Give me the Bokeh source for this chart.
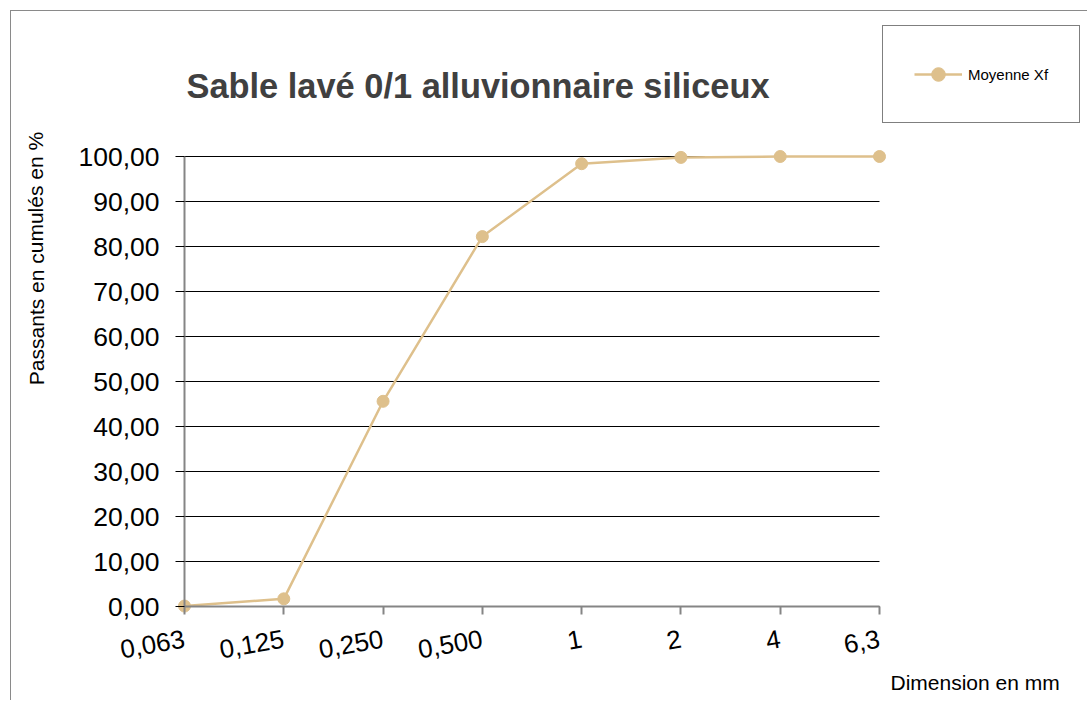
from bokeh.plotting import figure
from bokeh.models import (Range1d, FixedTicker, Label, Legend, LegendItem, Grid)
from bokeh.embed import file_html
from bokeh.resources import INLINE

# ---- data ----
sizes = ["0,063", "0,125", "0,250", "0,500", "1", "2", "4", "6,3"]
passing = [0.1, 1.7, 45.6, 82.2, 98.4, 99.8, 100.0, 100.0]
y_ticks = [0, 10, 20, 30, 40, 50, 60, 70, 80, 90, 100]
y_tick_labels = ["0,00", "10,00", "20,00", "30,00", "40,00", "50,00",
                 "60,00", "70,00", "80,00", "90,00", "100,00"]
title_text = "Sable lavé 0/1 alluvionnaire siliceux"
y_label = "Passants en cumulés en %"
x_label = "Dimension en mm"
series_name = "Moyenne Xf"

FONT = "Liberation Sans"
LINE_COLOR = "#DEC08C"

xs = list(range(len(sizes)))
n_steps = len(sizes) - 1

# ---- layout geometry (page pixels) ----
W, H = 1077, 690          # canvas size
OX, OY = 11, 11           # canvas origin on the page (margin + border)
PL, PR = 184, 879         # plot area left / right on page
PT, PB = 156, 606         # plot area top / bottom on page
sx_unit = (PR - PL) / n_steps
sy_unit = (PB - PT) / 100.0

def dx(px):
    return (px - PL) / sx_unit

def dy(py):
    return (PB - py) / sy_unit

x_start, x_end = dx(OX), dx(OX + W)
y_start, y_end = dy(OY + H), dy(OY)

p = figure(width=W, height=H, output_backend="svg", toolbar_location=None,
           title_location=None,
           x_range=Range1d(x_start, x_end), y_range=Range1d(y_start, y_end),
           min_border=0, min_border_left=0, min_border_right=0,
           min_border_top=0, min_border_bottom=0)
p.outline_line_color = None
p.background_fill_color = "white"
p.border_fill_color = "white"
p.styles = {"border-left": "1px solid #8a8a8a", "border-top": "1px solid #8a8a8a",
            "margin-left": "10px", "margin-top": "10px"}

# line + markers
r_line = p.line(xs, passing, line_color=LINE_COLOR, line_width=2.5)
r_pts = p.scatter(xs, passing, size=12, fill_color=LINE_COLOR, line_color=LINE_COLOR)

# axes placed at the data origin
xa = p.xaxis[0]
xa.fixed_location = 0
xa.bounds = (0, n_steps)
xa.ticker = FixedTicker(ticks=xs)
xa.major_label_overrides = {i: s for i, s in enumerate(sizes)}
xa.major_label_orientation = 0.17
xa.major_label_text_font = FONT
xa.major_label_text_font_size = "26px"
xa.major_label_text_color = "black"
xa.major_label_standoff = 24
xa.axis_line_color = "#858585"
xa.axis_line_width = 2
xa.major_tick_line_color = "#858585"
xa.major_tick_line_width = 2
xa.major_tick_out = 8
xa.major_tick_in = 0
xa.minor_tick_line_color = None

ya = p.yaxis[0]
ya.fixed_location = 0
ya.bounds = (0, 100)
ya.ticker = FixedTicker(ticks=y_ticks)
ya.major_label_overrides = {v: s for v, s in zip(y_ticks, y_tick_labels)}
ya.major_label_text_font = FONT
ya.major_label_text_font_size = "26.5px"
ya.major_label_text_color = "black"
ya.major_label_standoff = 16
ya.axis_line_color = "#858585"
ya.axis_line_width = 2
ya.major_tick_line_color = "black"
ya.major_tick_out = 9
ya.major_tick_in = 0
ya.minor_tick_line_color = None

p.xgrid.grid_line_color = None
yg = p.ygrid[0]
yg.ticker = FixedTicker(ticks=y_ticks)
yg.grid_line_color = "black"
yg.grid_line_width = 1
if "cross_bounds" in Grid.properties():
    yg.cross_bounds = (0, n_steps)
else:
    yg.grid_line_color = None
    ya.major_tick_in = int(PR - PL)

# texts
p.add_layout(Label(x=dx(477.5), y=dy(85), text=title_text,
                   text_font=FONT, text_font_style="bold", text_font_size="34.4px",
                   text_color="#404040", text_align="center", text_baseline="alphabetic"))
p.add_layout(Label(x=dx(35.5), y=dy(258), text=y_label, angle=1.5708,
                   text_font=FONT, text_font_size="21px", text_color="black",
                   text_align="center", text_baseline="middle"))
p.add_layout(Label(x=dx(890), y=dy(682), text=x_label,
                   text_font=FONT, text_font_size="21px", text_color="black",
                   text_align="left", text_baseline="alphabetic"))

legend = Legend(items=[LegendItem(label=series_name, renderers=[r_line, r_pts])],
                location=(882 - OX, (OY + H) - 123), orientation="vertical",
                padding=31, margin=0, spacing=0,
                glyph_width=48, glyph_height=34, label_height=34,
                label_standoff=6,
                label_text_font=FONT, label_text_font_size="15px",
                label_text_color="black",
                border_line_color="black", border_line_width=1,
                background_fill_color="white", background_fill_alpha=1)
p.add_layout(legend)

open("out.html", "w").write(file_html(p, INLINE))
